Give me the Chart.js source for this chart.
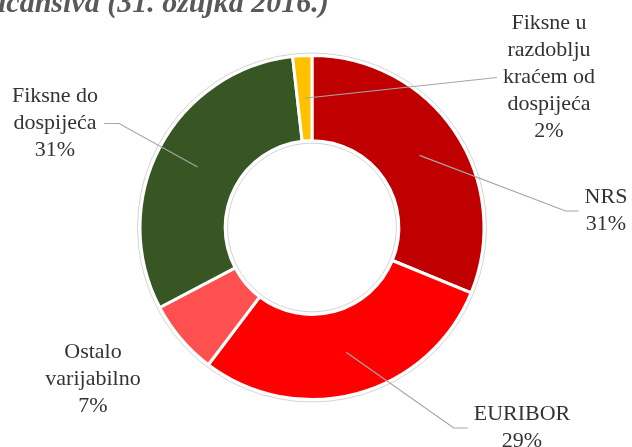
<!DOCTYPE html>
<html lang="hr">
   <head>
      <meta charset="UTF-8" />
      <title>Struktura kamatnih stopa</title>
      <script src="https://cdn.jsdelivr.net/npm/chart.js"></script>
      <style>
         body {
            margin: 0;
            overflow: hidden;
            background: #fff;
         }
         #wrap {
            width: 632px;
            height: 447px;
            position: relative;
         }
      </style>
   </head>
   <body>
      <div id="wrap">
         <canvas id="chart"></canvas>
      </div>
      <script>
         // data
         const categories = [
            ['NRS'],
            ['EURIBOR'],
            ['Ostalo', 'varijabilno'],
            ['Fiksne do', 'dospijeća'],
            ['Fiksne u', 'razdoblju', 'kraćem od', 'dospijeća'],
         ];
         const shares = [31.2, 29.1, 7.0, 30.9, 1.8];
         const colors = ['#C00000', '#FF0000', '#FF5050', '#375623', '#FFC000'];
         const titleText = 'icansiva (31. ožujka 2016.)';

         // where each label sits: centre x, first baseline, leader side
         const labelPlaces = [
            { x: 606, y: 203, side: 'left', stub: 13 },
            { x: 522, y: 420, side: 'left', stub: 14 },
            { x: 93, y: 358, side: null },
            { x: 55, y: 102, side: 'right', stub: 15 },
            { x: 549, y: 29, side: 'left', stub: 0 },
         ];

         const FONT = '22px "Liberation Serif", "Times New Roman", serif';
         const LINE_H = 27;

         const labelsPlugin = {
            id: 'calloutLabels',
            afterDatasetsDraw(chart) {
               const ctx = chart.ctx;
               const meta = chart.getDatasetMeta(0);
               const arc0 = meta.data[0];

               // thin grey rings around the donut
               ctx.save();
               ctx.strokeStyle = '#d4d4d4';
               ctx.lineWidth = 1;
               ctx.beginPath();
               ctx.arc(arc0.x, arc0.y, arc0.outerRadius + 2.5, 0, Math.PI * 2);
               ctx.stroke();
               ctx.beginPath();
               ctx.arc(arc0.x, arc0.y, arc0.innerRadius - 2.5, 0, Math.PI * 2);
               ctx.stroke();
               ctx.restore();

               ctx.save();
               ctx.font = FONT;
               ctx.textAlign = 'center';
               ctx.textBaseline = 'alphabetic';
               meta.data.forEach((arc, i) => {
                  const place = labelPlaces[i];
                  const lines = categories[i].concat([Math.round(shares[i]) + '%']);
                  const w = Math.max(...lines.map((t) => ctx.measureText(t).width));
                  const top = place.y - 16;
                  const bottom = place.y + (lines.length - 1) * LINE_H + 5;
                  const midY = (top + bottom) / 2;

                  if (place.side) {
                     const start = arc.getCenterPoint();
                     const endX = place.side === 'left' ? place.x - w / 2 - 6 : place.x + w / 2 + 6;
                     const bendX = place.side === 'left' ? endX - place.stub : endX + place.stub;
                     ctx.strokeStyle = '#a6a6a6';
                     ctx.lineWidth = 1.2;
                     ctx.beginPath();
                     ctx.moveTo(start.x, start.y);
                     ctx.lineTo(bendX, midY);
                     ctx.lineTo(endX, midY);
                     ctx.stroke();
                  }

                  ctx.fillStyle = '#333333';
                  lines.forEach((t, k) => ctx.fillText(t, place.x, place.y + k * LINE_H));
               });
               ctx.restore();

               // cut-off title at the top
               ctx.save();
               ctx.font = 'italic bold 30px "Liberation Serif", "Times New Roman", serif';
               ctx.fillStyle = '#595959';
               ctx.textAlign = 'left';
               ctx.fillText(titleText, -2, 12);
               ctx.restore();
            },
         };

         new Chart(document.getElementById('chart'), {
            type: 'doughnut',
            data: {
               labels: categories.map((c) => c.join(' ')),
               datasets: [
                  {
                     data: shares,
                     backgroundColor: colors,
                     borderColor: '#ffffff',
                     borderWidth: 3,
                  },
               ],
            },
            options: {
               responsive: true,
               maintainAspectRatio: false,
               animation: false,
               radius: 172,
               cutout: '50.5%',
               layout: {
                  padding: { left: 0, right: 8, top: 8, bottom: 0 },
               },
               plugins: {
                  legend: { display: false },
                  tooltip: { enabled: false },
                  title: { display: false },
               },
            },
            plugins: [labelsPlugin],
         });
      </script>
   </body>
</html>
